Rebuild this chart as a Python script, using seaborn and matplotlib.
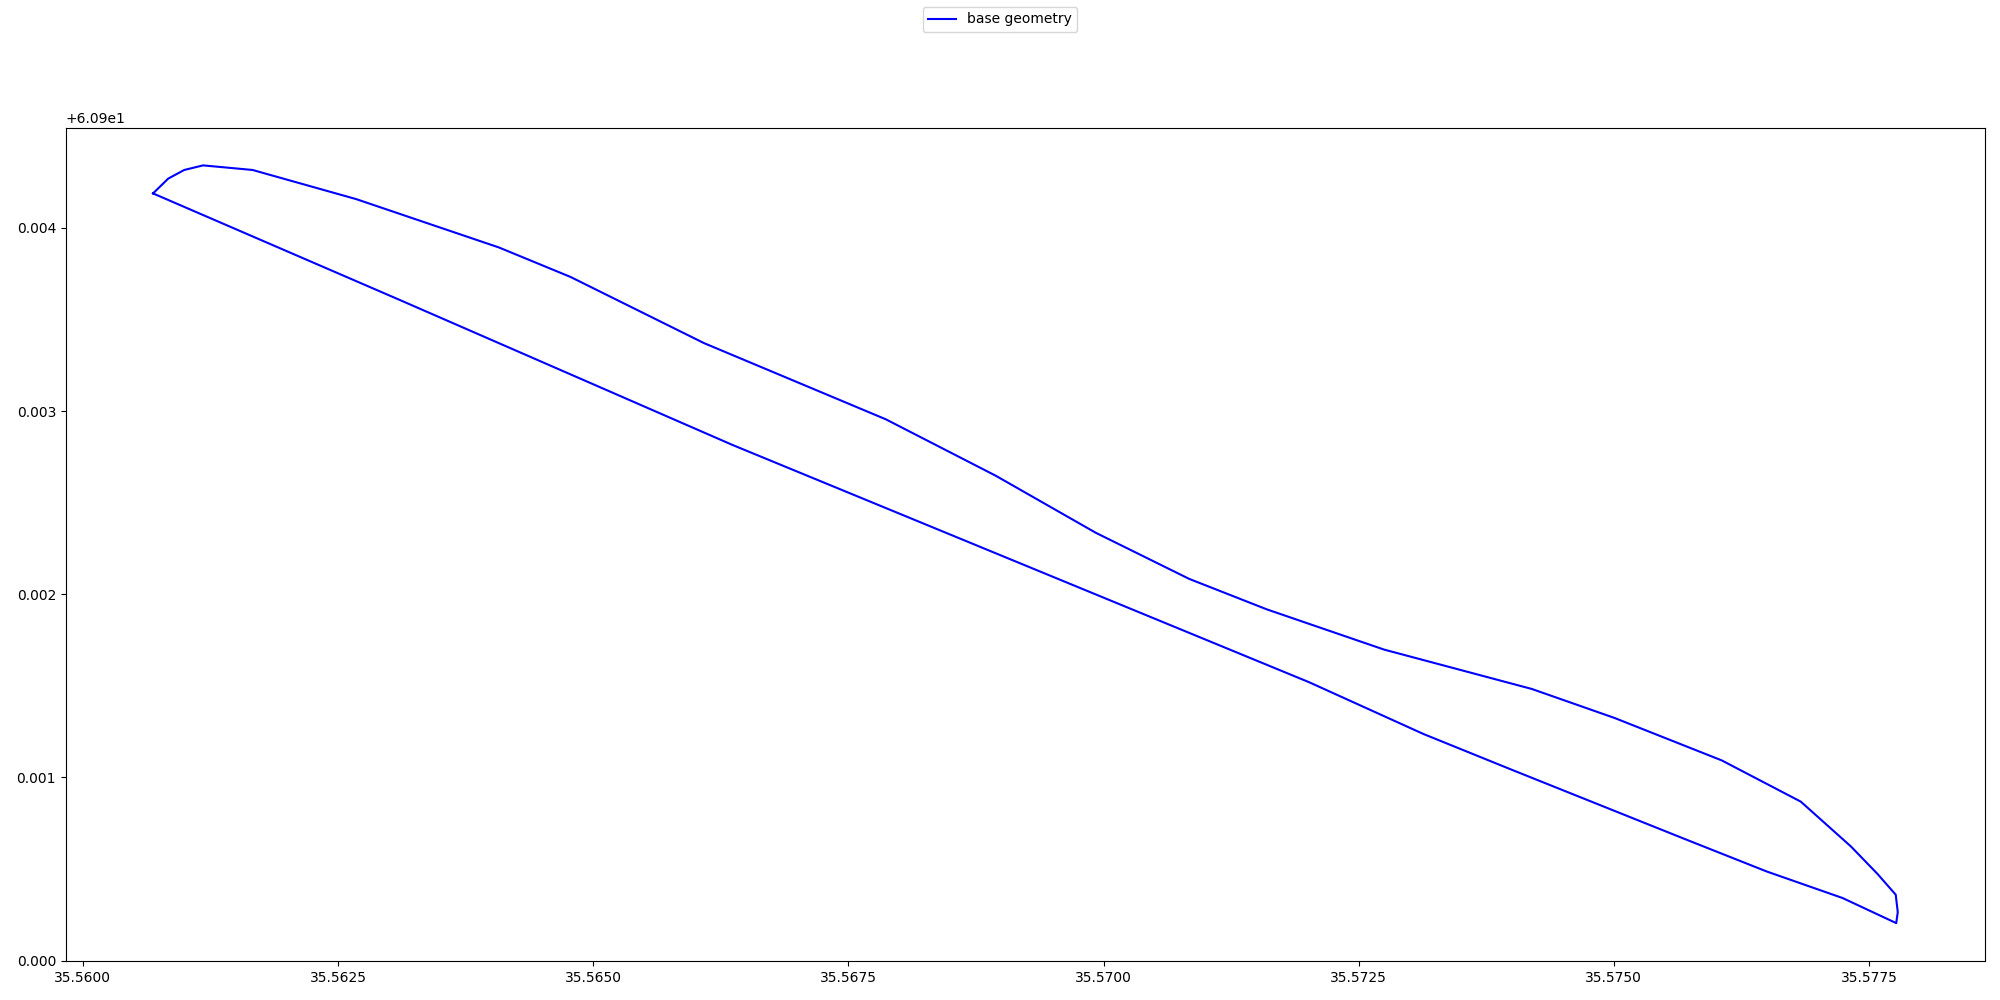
import matplotlib
matplotlib.use("Agg")
import matplotlib.pyplot as plt
import seaborn as sns
import pandas as pd

# polygon outline of the base geometry (closed ring)
lon = [
    35.560687, 35.560836, 35.560993, 35.561177, 35.561662, 35.562677,
    35.564076, 35.564778, 35.566085, 35.567867, 35.568944, 35.569923,
    35.570839, 35.571598, 35.572749, 35.574197, 35.575006, 35.576058,
    35.576832, 35.577322, 35.577581, 35.577762, 35.577782, 35.577767,
    35.577241, 35.576497, 35.575691, 35.573987, 35.573136, 35.572014,
    35.566369, 35.563098, 35.560687,
]
lat = [
    60.904188, 60.904269, 60.904316, 60.904341, 60.904316, 60.904157,
    60.903893, 60.903732, 60.903371, 60.902955, 60.902647, 60.902336,
    60.902084, 60.901918, 60.901698, 60.901483, 60.901325, 60.901093,
    60.900868, 60.900624, 60.900475, 60.900360, 60.900265, 60.900205,
    60.900342, 60.900487, 60.900665, 60.901045, 60.901237, 60.901520,
    60.902814, 60.903608, 60.904188,
]
series_label = "base geometry"

df = pd.DataFrame({"lon": lon, "lat": lat, "order": range(len(lon))})

fig, ax = plt.subplots(figsize=(20, 10), dpi=100)
sns.lineplot(data=df, x="lon", y="lat", sort=False, estimator=None,
             color="blue", linewidth=1.5, label=series_label, ax=ax)
ax.set_xlabel("")
ax.set_ylabel("")
handles, labels = ax.get_legend_handles_labels()
ax.get_legend().remove()
fig.legend(handles, labels, loc="upper center")

fig.subplots_adjust(left=0.0329, right=0.9925, bottom=0.039, top=0.8725)
fig.savefig("out.png", dpi=100)
